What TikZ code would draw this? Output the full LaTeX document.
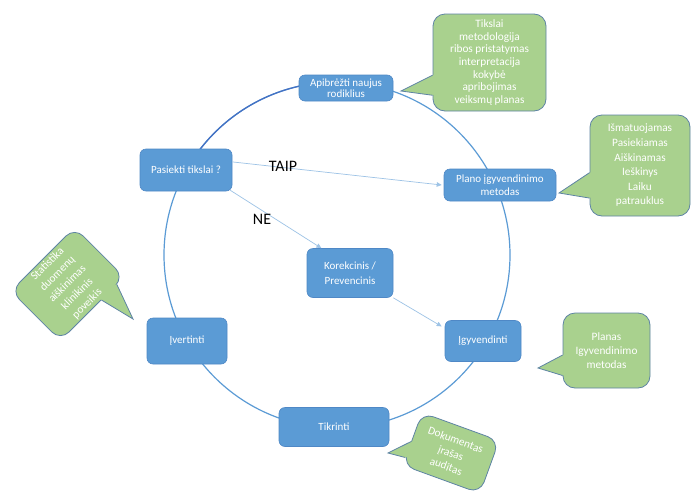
\documentclass[tikz,border=0pt]{standalone}
\usepackage{fontspec}
\setmainfont{Carlito}
\usetikzlibrary{arrows.meta,calc}
\definecolor{boxblue}{HTML}{5B9BD5}
\definecolor{boxedge}{HTML}{4F88C6}
\definecolor{ringblue}{HTML}{5B9BD5}
\definecolor{ringdark}{HTML}{4472C4}
\definecolor{arrowblue}{HTML}{9DC3E6}
\definecolor{callgreen}{HTML}{A9D18E}
\definecolor{calledge}{HTML}{5E84A4}

\begin{document}
\begin{tikzpicture}[x=1pt,y=-1pt,
  stagebox/.style={draw=boxedge, line width=0.6pt, fill=boxblue, rounded corners=6pt,
    text=white, align=center, inner sep=2pt, font=\fontsize{11}{12.5}\selectfont},
  bubble/.style={draw=calledge, line width=0.8pt, fill=callgreen, rounded corners=12pt,
    text=white, align=center, inner sep=0pt, font=\fontsize{11.3}{14}\selectfont},
  bubblefill/.style={fill=callgreen},
  bubbleedge/.style={draw=calledge, line width=0.8pt, line join=miter},
  flow/.style={draw=arrowblue, line width=0.7pt, -{Triangle[length=5pt,width=4.5pt]}},
  answer/.style={font=\fontsize{16}{16}\selectfont, text=black, inner sep=0pt}
]
\fill[white] (0,0) rectangle (696,493);
\useasboundingbox (0,0) rectangle (696,493);

% the cycle ring
\draw[ringblue, line width=1.2pt] (337,255) circle[radius=173];
\draw[ringdark, line width=1.3pt] (337,255) ++(-146:173) arc[start angle=-146, end angle=-100, radius=173];

% stages on the ring
\node[stagebox, minimum width=94, minimum height=26, font=\fontsize{11}{11.5}\selectfont] (api) at (346,88) {Apibrėžti naujus\\rodiklius};
\node[stagebox, minimum width=92, minimum height=42] (pas) at (186,170) {Pasiekti tikslai ?};
\node[stagebox, minimum width=112, minimum height=32, font=\fontsize{11}{13}\selectfont] (plano) at (500,185) {Plano įgyvendinimo\\metodas};
\node[stagebox, minimum width=86, minimum height=49, font=\fontsize{11}{14.5}\selectfont] (kor) at (350,273) {Korekcinis /\\Prevencinis};
\node[stagebox, minimum width=76, minimum height=41] (ig) at (483,341) {Įgyvendinti};
\node[stagebox, minimum width=80, minimum height=46] (iv) at (187,341) {Įvertinti};
\node[stagebox, minimum width=110, minimum height=39] (tik) at (334,427) {Tikrinti};

% decision arrows
\draw[flow] ($(pas.north east)!0.31!(pas.south east)$) -- ($(plano.west)+(-2,0)$);
\draw[flow] ($(pas.south east)+(-2,-1)$) -- ($(kor.north west)!0.17!(kor.north east)$);
\draw[flow] (kor.south east) -- ($(ig.north west)!0.15!(ig.south west)+(-3,0)$);
\node[answer] (taip) at (283,166) {TAIP};
\node[answer] (ne) at (262,219) {NE};

% callouts
\coordinate (t1) at (401,91);
\coordinate (t2) at (559,193);
\coordinate (t3) at (538,368);
\coordinate (t4) at (133,319);
\coordinate (t5) at (388,453);

\node[bubble, minimum width=113, minimum height=97, font=\fontsize{11.3}{12.7}\selectfont] (c1) at (489.5,62.5)
  {Tikslai\\metodologija\\ribos pristatymas\\interpretacija\\kokybė\\apribojimas\\veiksmų planas};
\node[bubble, minimum width=100, minimum height=101, font=\fontsize{11.3}{14.6}\selectfont] (c2) at (640,165.5)
  {Išmatuojamas\\Pasiekiamas\\Aiškinamas\\Ieškinys\\Laiku\\patrauklus};
\node[bubble, minimum width=87, minimum height=75] (c3) at (606.5,350.5)
  {Planas\\Igyvendinimo\\metodas};
\node[bubble, minimum width=90, minimum height=70, rotate=45] (c4) at (67.5,284)
  {Statistika\\duomenų\\aiškinimas\\klinikinis\\poveikis};
\node[bubble, minimum width=82, minimum height=56, rotate=-20] (c5) at (451,453)
  {Dokumentas\\įrašas\\auditas};

% pointer base points on the callout sides
\path (c1.north west) -- (c1.south west) coordinate[pos=0.63] (c1a) coordinate[pos=0.835] (c1b);
\path (c2.north west) -- (c2.south west) coordinate[pos=0.57] (c2a) coordinate[pos=0.82] (c2b);
\path (c3.north west) -- (c3.south west) coordinate[pos=0.56] (c3a) coordinate[pos=0.83] (c3b);
\path (c4.south west) -- (c4.south east) coordinate[pos=0.64] (c4a) coordinate[pos=0.88] (c4b);
\path (c5.north west) -- (c5.south west) coordinate[pos=0.55] (c5a) coordinate[pos=0.85] (c5b);

\foreach \c in {1,...,5}{
  \fill[bubblefill] ($(c\c a)!2pt!(c\c.center)$) -- (c\c a) -- (t\c) -- (c\c b) -- ($(c\c b)!2pt!(c\c.center)$) -- cycle;
  \draw[bubbleedge] (c\c a) -- (t\c) -- (c\c b);
}
\end{tikzpicture}
\end{document}
